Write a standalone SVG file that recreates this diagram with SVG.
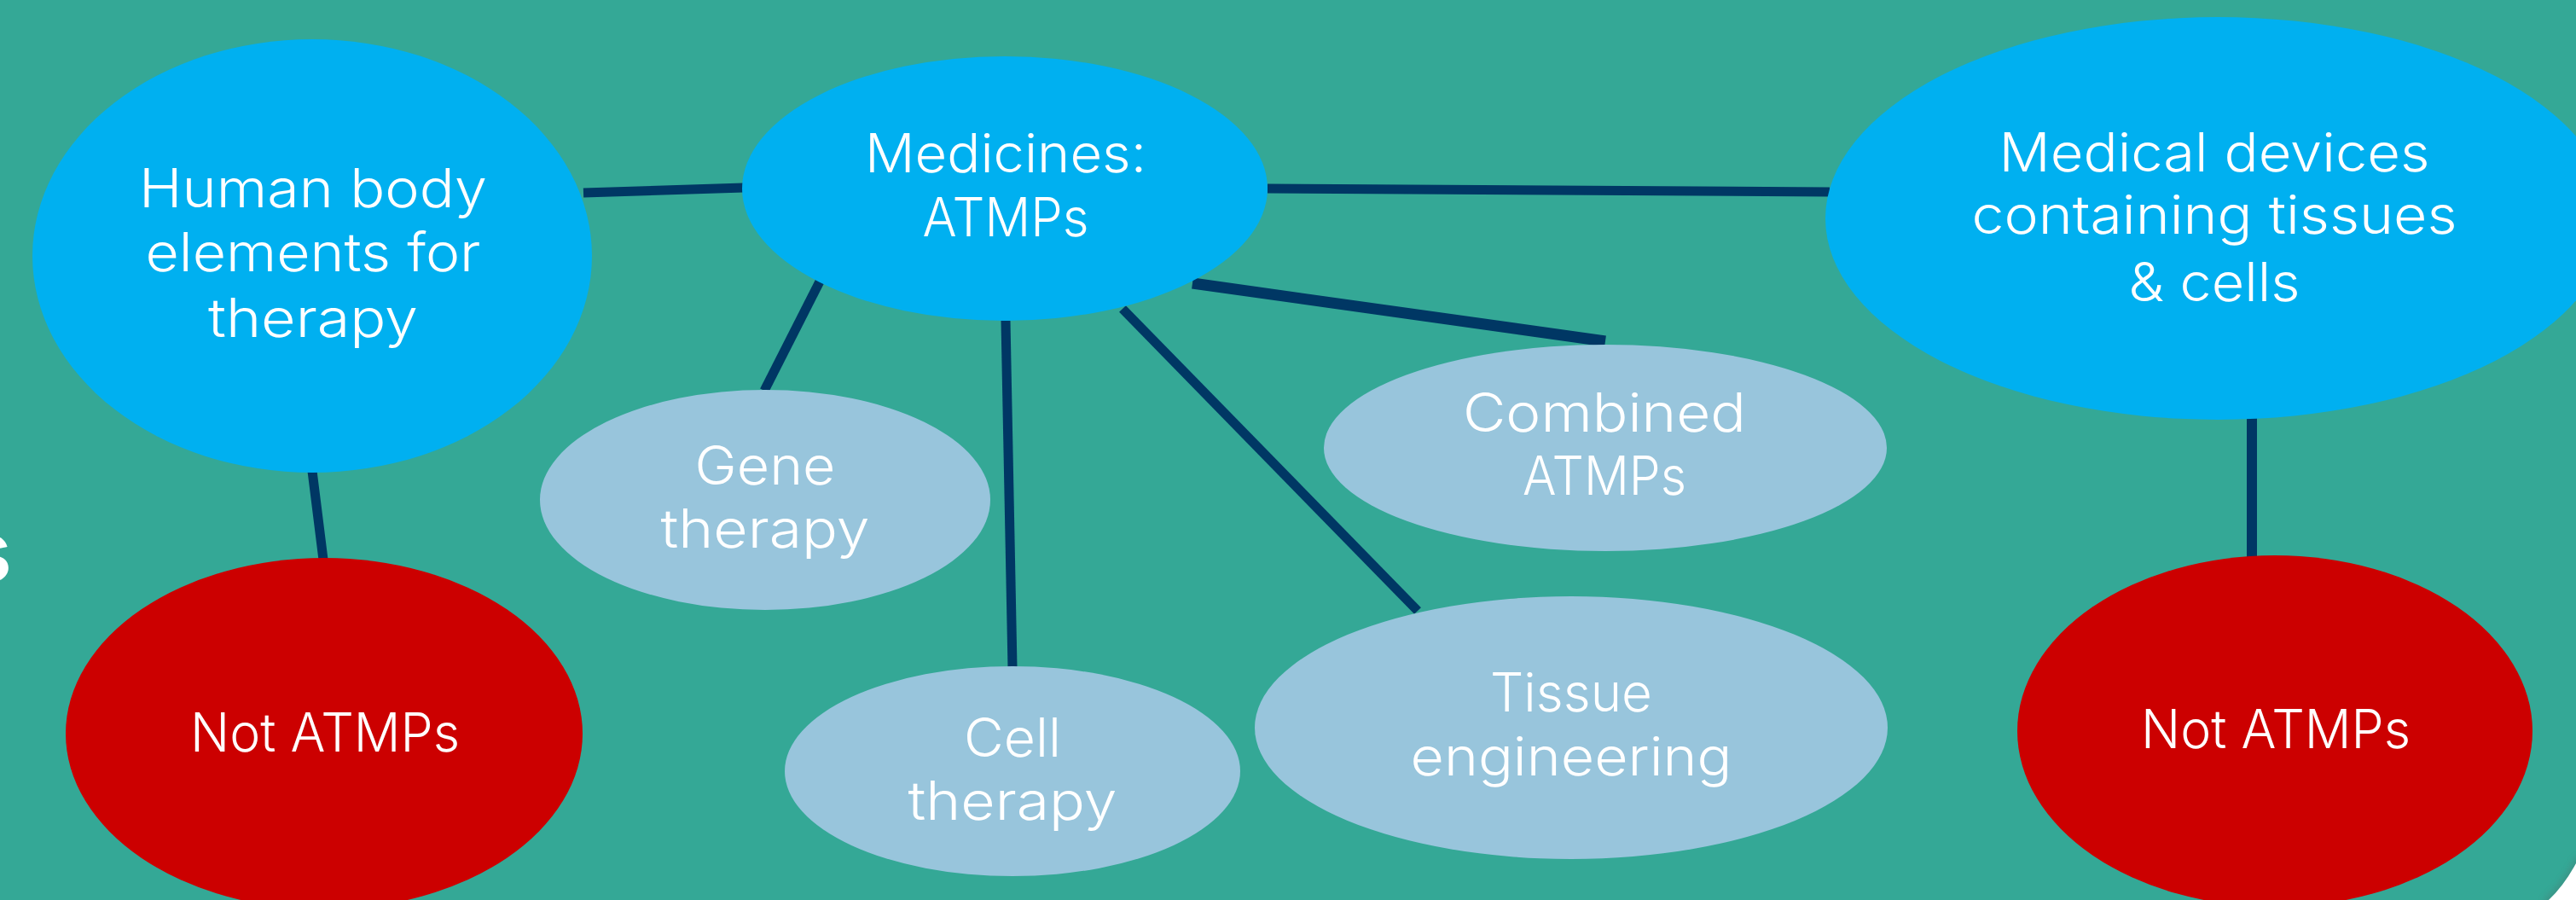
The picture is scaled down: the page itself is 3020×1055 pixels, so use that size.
<svg xmlns="http://www.w3.org/2000/svg" width="3020" height="1055" viewBox="0 0 3020 1055">
<defs>
<style>
.bg{fill:#34A896}
.blue{fill:#00B0F0}
.light{fill:#98C5DC}
.red{fill:#CC0000}
.ln{stroke:#003764;stroke-width:11;fill:none;stroke-linecap:butt}
.t{font-family:Inter,"Noto Sans","Liberation Sans",sans-serif;font-weight:300;font-size:63px;fill:#FFFFFF;text-anchor:middle}
.frag{font-family:Inter,"Noto Sans","Liberation Sans",sans-serif;font-weight:600;font-size:100px;fill:#FFFFFF;text-anchor:end}
</style>
<filter id="sh" x="-50%" y="-50%" width="200%" height="200%"><feGaussianBlur stdDeviation="4"/></filter>
</defs>
<rect class="bg" x="0" y="0" width="3020" height="1055"/>
<text class="frag" x="14" y="682">s</text>
<g id="connectors">
<line class="ln" x1="684" y1="226" x2="872" y2="220"/>
<line class="ln" x1="1486" y1="221" x2="2145" y2="225"/>
<line class="ln" x1="961" y1="330" x2="896" y2="458"/>
<line class="ln" x1="1179" y1="376" x2="1187" y2="783"/>
<line class="ln" x1="1316" y1="362" x2="1662" y2="716"/>
<line class="ln" style="stroke-width:13" x1="1398" y1="332" x2="1882" y2="400"/>
<line class="ln" x1="366" y1="552" x2="379" y2="656"/>
<line class="ln" style="stroke-width:12" x1="2640" y1="490" x2="2640" y2="654"/>
</g>
<g id="node-human">
<ellipse class="blue" cx="366" cy="300" rx="328" ry="254"/>
<text class="t" x="367" y="243" textLength="408" lengthAdjust="spacingAndGlyphs">Human body</text>
<text class="t" x="367" y="318" textLength="393" lengthAdjust="spacingAndGlyphs">elements for</text>
<text class="t" x="367" y="395" textLength="246" lengthAdjust="spacingAndGlyphs">therapy</text>
</g>
<g id="node-medicines">
<ellipse class="blue" cx="1178" cy="221" rx="308" ry="155"/>
<text class="t" x="1179" y="202" textLength="330" lengthAdjust="spacingAndGlyphs">Medicines:</text>
<text class="t" x="1179" y="277" textLength="195" lengthAdjust="spacingAndGlyphs">ATMPs</text>
</g>
<g id="node-devices">
<ellipse class="blue" cx="2600" cy="256" rx="460" ry="236"/>
<text class="t" x="2596" y="201" textLength="505" lengthAdjust="spacingAndGlyphs">Medical devices</text>
<text class="t" x="2596" y="274" textLength="569" lengthAdjust="spacingAndGlyphs">containing tissues</text>
<text class="t" x="2596" y="353" textLength="201" lengthAdjust="spacingAndGlyphs">&amp; cells</text>
</g>
<g id="node-gene">
<ellipse class="light" cx="897" cy="586" rx="264" ry="129"/>
<text class="t" x="897" y="568" textLength="165" lengthAdjust="spacingAndGlyphs">Gene</text>
<text class="t" x="897" y="642" textLength="245" lengthAdjust="spacingAndGlyphs">therapy</text>
</g>
<g id="node-cell">
<ellipse class="light" cx="1187" cy="904" rx="267" ry="123"/>
<text class="t" x="1187" y="887" textLength="114" lengthAdjust="spacingAndGlyphs">Cell</text>
<text class="t" x="1187" y="961" textLength="245" lengthAdjust="spacingAndGlyphs">therapy</text>
</g>
<g id="node-combined">
<ellipse class="light" cx="1882" cy="525" rx="330" ry="121"/>
<text class="t" x="1881" y="506" textLength="332" lengthAdjust="spacingAndGlyphs">Combined</text>
<text class="t" x="1881" y="580" textLength="192" lengthAdjust="spacingAndGlyphs">ATMPs</text>
</g>
<g id="node-tissue">
<ellipse class="light" cx="1842" cy="853" rx="371" ry="154"/>
<text class="t" x="1842" y="834" textLength="190" lengthAdjust="spacingAndGlyphs">Tissue</text>
<text class="t" x="1842" y="909" textLength="377" lengthAdjust="spacingAndGlyphs">engineering</text>
</g>
<g id="node-not-left">
<ellipse class="red" cx="380" cy="860" rx="303" ry="206"/>
<text class="t" x="381" y="881" textLength="316" lengthAdjust="spacingAndGlyphs">Not ATMPs</text>
</g>
<g id="node-not-right">
<ellipse class="red" cx="2667" cy="857" rx="302" ry="206"/>
<text class="t" x="2668" y="877" textLength="316" lengthAdjust="spacingAndGlyphs">Not ATMPs</text>
</g>
<path d="M3024,1006 Q3010,1036 2984,1059" stroke="#555555" stroke-width="6" fill="none" opacity="0.35" filter="url(#sh)"/>
<path d="M3020,1012 Q3006,1038 2988,1055 L3020,1055 Z" fill="#FFFFFF"/>
</svg>
